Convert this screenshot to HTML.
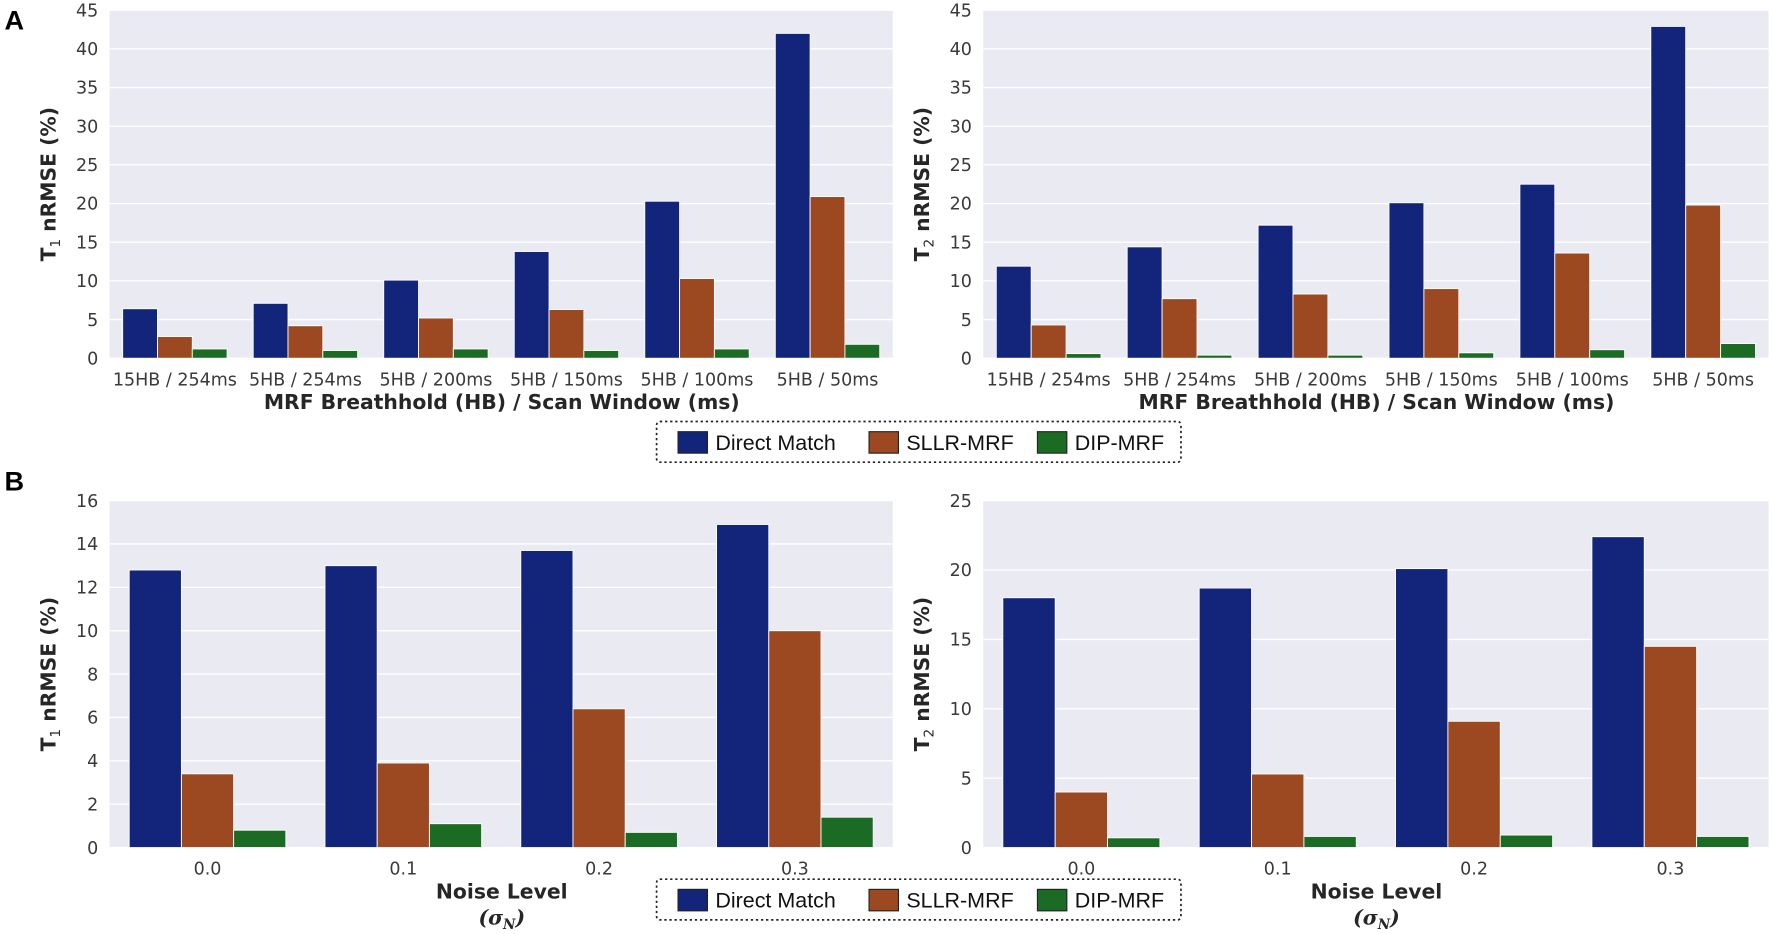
<!DOCTYPE html>
<html><head><meta charset="utf-8"><style>
html,body{margin:0;padding:0;background:#fff;width:1772px;height:934px;overflow:hidden}
svg{display:block}
.tick{font-family:"DejaVu Sans","Liberation Sans",sans-serif;font-size:15.5px;fill:#3a3a3a}
.lab{font-family:"DejaVu Sans","Liberation Sans",sans-serif;font-size:18px;font-weight:bold;fill:#262626}
.leg{font-family:"Liberation Sans",Arial,sans-serif;font-size:19px;fill:#111}
.pl{font-family:"Liberation Sans",Arial,sans-serif;font-size:24px;font-weight:bold;fill:#000}
</style></head><body>
<svg id="fig" width="1772" height="934" viewBox="0 0 1568 826.5" preserveAspectRatio="none" xmlns="http://www.w3.org/2000/svg"></svg>
<script>
const series = ["Direct Match","SLLR-MRF","DIP-MRF"];
const colors = ["#13257a","#9c4820","#1c6b25"];
const catsA = ["15HB / 254ms","5HB / 254ms","5HB / 200ms","5HB / 150ms","5HB / 100ms","5HB / 50ms"];
const catsB = ["0.0","0.1","0.2","0.3"];
const aT1DM = [6.4,7.1,10.1,13.8,20.3,42.0];
const aT1SL = [2.8,4.2,5.2,6.3,10.3,20.9];
const aT1DIP = [1.2,1.0,1.2,1.0,1.2,1.8];
const aT2DM = [11.9,14.4,17.2,20.1,22.5,42.9];
const aT2SL = [4.3,7.7,8.3,9.0,13.6,19.8];
const aT2DIP = [0.6,0.4,0.4,0.7,1.1,1.9];
const bT1DM = [12.8,13.0,13.7,14.9];
const bT1SL = [3.4,3.9,6.4,10.0];
const bT1DIP = [0.8,1.1,0.7,1.4];
const bT2DM = [18.0,18.7,20.1,22.4];
const bT2SL = [4.0,5.3,9.1,14.5];
const bT2DIP = [0.7,0.8,0.9,0.8];
const ticksA = [0,5,10,15,20,25,30,35,40,45];
const ticksB1 = [0,2,4,6,8,10,12,14,16];
const ticksB2 = [0,5,10,15,20,25];

const NS="http://www.w3.org/2000/svg";
const svg=document.getElementById('fig');
function mk(tag,attrs,parent,text){const e=document.createElementNS(NS,tag);for(const k in attrs)e.setAttribute(k,attrs[k]);if(text!==undefined)e.textContent=text;(parent||svg).appendChild(e);return e;}

function chart(name,x0,x1,y0,y1,cats,vals,ticks,ymax,ylab){
  const g=mk('g',{});
  
  
  const bg=mk('rect',{x:x0,y:y0,width:x1-x0,height:y1-y0,fill:'#eaeaf2'},g);
  
  
  const yS=v=>y1-(v/ymax)*(y1-y0);
  ticks.forEach(t=>{
    const y=yS(t);
    const l=mk('line',{x1:x0,x2:x1,y1:y,y2:y,stroke:'#fff','stroke-width':1.2},g);
    
    
    const tx=mk('text',{x:x0-10,y:y+5.5,'text-anchor':'end',class:'tick'},g,String(t));
    
    
  });
  const cw=(x1-x0)/cats.length, bw=cw*0.8/3;
  cats.forEach((c,i)=>{
    const cx=x0+cw*(i+0.5);
    vals.forEach((arr,s)=>{
      const bx=cx-1.5*bw+s*bw, by=yS(arr[i]);
      const r=mk('rect',{x:bx,y:by,width:bw,height:y1-by,fill:colors[s],stroke:'#fff','stroke-width':0.8},g);
      
      
    });
    const tx=mk('text',{x:cx,y:y1+24,'text-anchor':'middle',class:'tick'},g,c);
    
    
  });
  const yl=mk('text',{transform:`translate(${x0-48},${(y0+y1)/2}) rotate(-90)`,'text-anchor':'middle',class:'lab'},g);
  
  
  mk('tspan',{},yl,'T');
  mk('tspan',{dy:4,'font-size':'12px','font-weight':'normal'},yl,ylab);
  mk('tspan',{dy:-4},yl,' nRMSE (%)');
}

chart('chart-a-t1',97,790,9,317,catsA,[aT1DM,aT1SL,aT1DIP],ticksA,45,'1');
chart('chart-a-t2',870,1565,9,317,catsA,[aT2DM,aT2SL,aT2DIP],ticksA,45,'2');
chart('chart-b-t1',97,790,443,750,catsB,[bT1DM,bT1SL,bT1DIP],ticksB1,16,'1');
chart('chart-b-t2',870,1565,443,750,catsB,[bT2DM,bT2SL,bT2DIP],ticksB2,25,'2');

function txt(name,x,y,cls,s,anchor){const t=mk('text',{x:x,y:y,class:cls,'text-anchor':anchor||'middle'},svg,s);return t;}
txt('x-axis-title-a-left',444,362,'lab','MRF Breathhold (HB) / Scan Window (ms)');
txt('x-axis-title-a-right',1218,362,'lab','MRF Breathhold (HB) / Scan Window (ms)');
txt('x-axis-title-b-left',444,795,'lab','Noise Level');
txt('x-axis-title-b-right',1218,795,'lab','Noise Level');
[444,1218].forEach(x=>{
  const t=mk('text',{x:x,y:818,'text-anchor':'middle','font-family':'"DejaVu Serif","Liberation Serif",serif','font-size':'18px','font-style':'italic','font-weight':'bold',fill:'#262626'},svg);
  
  
  mk('tspan',{},t,'(σ');
  mk('tspan',{dy:4,'font-size':'12px'},t,'N');
  mk('tspan',{dy:-4},t,')');
});
txt('panel-label-a',4,26,'pl','A','start');
txt('panel-label-b',4,434,'pl','B','start');

function legend(name,y){
  const g=mk('g',{});
  
  
  const b=mk('rect',{x:581,y:y,width:464,height:36,fill:'#fff',stroke:'#222','stroke-width':1.5,'stroke-dasharray':'2 2.5',rx:3},g);
  
  
  const xs=[600,769,918];
  series.forEach((s,i)=>{
    const r=mk('rect',{x:xs[i],y:y+9,width:26,height:19,fill:colors[i],stroke:'#222','stroke-width':1},g);
    
    
    const t=mk('text',{x:xs[i]+33,y:y+25,class:'leg'},g,s);
    
    
  });
}
legend('legend-a',373);
legend('legend-b',778);
</script>
</body></html>
